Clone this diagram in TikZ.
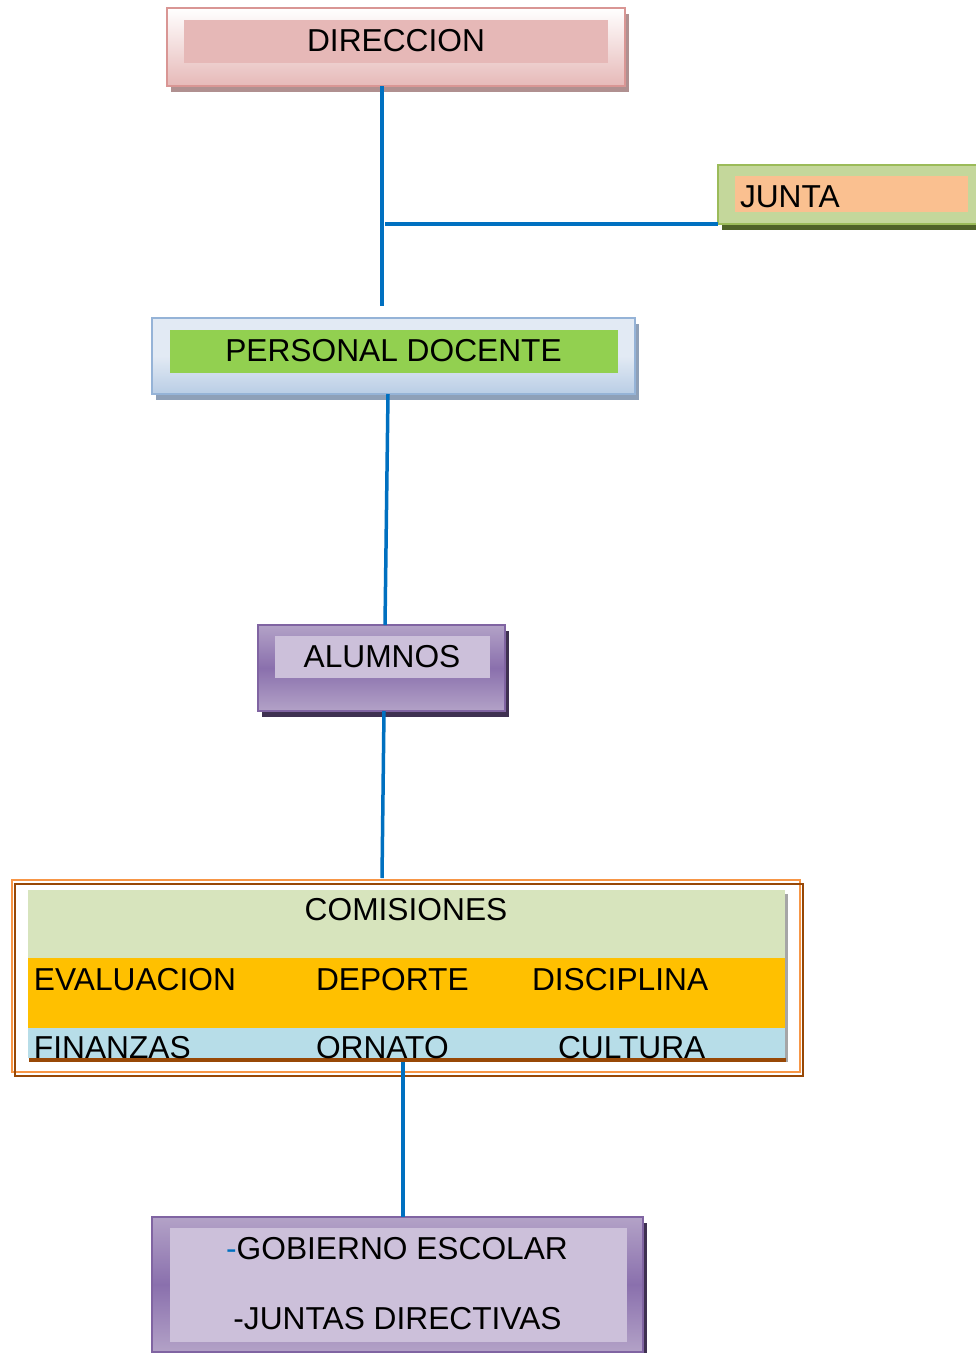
\documentclass[tikz,border=0pt]{standalone}
\usepackage{fontspec}
\setmainfont{Liberation Sans}
\usetikzlibrary{shadows,calc}
\definecolor{connblue}{HTML}{0070C0}
\definecolor{dirborder}{HTML}{D99694}
\definecolor{dirpink}{HTML}{E6B9B8}
\definecolor{dirinner}{HTML}{E6B8B7}
\definecolor{dirshadow}{HTML}{B09090}
\definecolor{juntaborder}{HTML}{9BBB59}
\definecolor{juntafill}{HTML}{C4D79B}
\definecolor{juntainner}{HTML}{FAC090}
\definecolor{juntashadow}{HTML}{4F6228}
\definecolor{pdborder}{HTML}{95B3D7}
\definecolor{pdlight}{HTML}{E2EAF4}
\definecolor{pddark}{HTML}{B9CDE5}
\definecolor{pdinner}{HTML}{92D050}
\definecolor{pdshadow}{HTML}{8EA0B8}
\definecolor{purpborder}{HTML}{8064A2}
\definecolor{purplight}{HTML}{B3A2C7}
\definecolor{purpdark}{HTML}{8A70AD}
\definecolor{purpinner}{HTML}{CCC0DA}
\definecolor{purpshadow}{HTML}{3F3151}
\definecolor{comorange}{HTML}{F79646}
\definecolor{combrown}{HTML}{984806}
\definecolor{rowgreen}{HTML}{D7E4BD}
\definecolor{rowgold}{HTML}{FFC000}
\definecolor{rowblue}{HTML}{B7DDE8}
\begin{document}
\begin{tikzpicture}[x=1pt,y=-1pt,
  font=\fontsize{31.7}{38}\selectfont,
  box/.style={rectangle, inner sep=0pt, outer sep=0pt, line width=1.5pt},
  lbl/.style={inner sep=0pt, outer sep=0pt, anchor=base},
  lblw/.style={inner sep=0pt, outer sep=0pt, anchor=base west},
  conn/.style={draw=connblue, line width=3.5pt},
  shad/.style={drop shadow={shadow xshift=4pt, shadow yshift=-5.5pt, fill=#1, opacity=1}}]
\useasboundingbox (0,0) rectangle (976,1353);

% DIRECCION
\node[box, shad=dirshadow, draw=dirborder, top color=white, bottom color=dirpink,
  minimum width=458pt, minimum height=78pt] (dir) at (396,47) {};
\node[box, fill=dirinner, minimum width=424pt, minimum height=43pt] (dirin) at (396,41.5) {};
\node[lbl] (dirtxt) at (396,51) {DIRECCION};

% JUNTA
\node[box, shad=juntashadow, draw=juntaborder, fill=juntafill,
  minimum width=266pt, minimum height=59pt] (junta) at (851,194.5) {};
\node[box, fill=juntainner, minimum width=233pt, minimum height=36pt] (juntain) at (851.5,194) {};
\node[lblw] (juntatxt) at (740,207) {JUNTA};

% PERSONAL DOCENTE
\node[box, shad=pdshadow, draw=pdborder, top color=pdlight, bottom color=pddark, middle color=pdlight,
  minimum width=483pt, minimum height=76pt] (pd) at (393.5,356) {};
\node[box, fill=pdinner, minimum width=448pt, minimum height=43pt] (pdin) at (394,351.5) {};
\node[lbl] (pdtxt) at (393.5,361) {PERSONAL DOCENTE};

% ALUMNOS
\node[box, shad=purpshadow, draw=purpborder, top color=purplight, bottom color=purplight, middle color=purpdark,
  minimum width=247pt, minimum height=86pt] (alu) at (381.5,668) {};
\node[box, fill=purpinner, minimum width=215pt, minimum height=42pt] (aluin) at (382.5,657) {};
\node[lbl] (alutxt) at (382,667) {ALUMNOS};

% COMISIONES
\node[box, draw=comorange, line width=2pt, minimum width=788pt, minimum height=192pt] (com) at (406,976) {};
\node[box, draw=combrown, line width=2pt, minimum width=788pt, minimum height=192pt] (combr) at (409,980) {};
\node[box, fill=black!35, minimum width=3pt, minimum height=168pt] (rowshade) at (786.5,978) {};
\node[box, fill=rowgreen, minimum width=757pt, minimum height=68pt] (rowa) at (406.5,924) {};
\node[box, fill=rowgold, minimum width=757pt, minimum height=70pt] (rowb) at (406.5,993) {};
\node[box, fill=rowblue, minimum width=757pt, minimum height=30pt] (rowc) at (406.5,1043) {};
\node[box, fill=combrown, minimum width=757pt, minimum height=4pt] (rowd) at (407.5,1060) {};
\node[lbl] (comtxt) at (406,920) {COMISIONES};
\node[lblw] (t1) at (34,990) {EVALUACION};
\node[lblw] (t2) at (316,990) {DEPORTE};
\node[lblw] (t3) at (532,990) {DISCIPLINA};
\node[lblw] (t4) at (34,1058) {FINANZAS};
\node[lblw] (t5) at (316,1058) {ORNATO};
\node[lblw] (t6) at (558,1058) {CULTURA};

% GOBIERNO
\node[box, shad=purpshadow, draw=purpborder, top color=purplight, bottom color=purplight, middle color=purpdark,
  minimum width=491pt, minimum height=135pt] (gob) at (397.5,1284.5) {};
\node[box, fill=purpinner, minimum width=457pt, minimum height=114pt] (gobin) at (398.5,1285) {};
\node[lbl] (gobtxt1) at (397,1259) {\textcolor{connblue}{-}GOBIERNO ESCOLAR};
\node[lbl] (gobtxt2) at (397.5,1329) {-JUNTAS DIRECTIVAS};

% connectors
\coordinate (dirdown) at (382,306);
\coordinate (jbranch) at (385,224);
\draw[conn] (dir.south -| dirdown) -- (dirdown);
\draw[conn] (jbranch) -- (jbranch -| junta.west);
\draw[conn] ($(pd.south)+(-5.5,0)$) -- ($(alu.north)+(3.5,0)$);
\draw[conn] ($(alu.south)+(2.5,0)$) -- ($(com.north)+(-24,-2)$);
\draw[conn] ($(rowd.south)+(-4.5,0)$) -- ($(gob.north)+(5.5,0)$);
\end{tikzpicture}
\end{document}
